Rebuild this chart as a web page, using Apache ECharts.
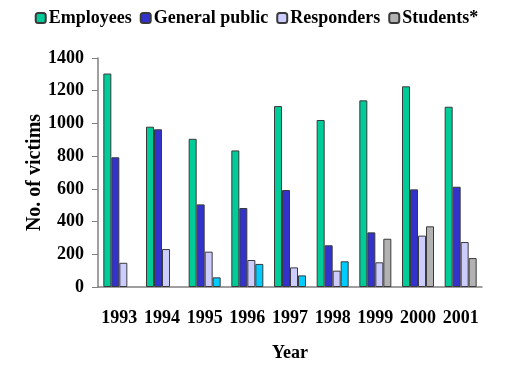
<!DOCTYPE html>
<html><head><meta charset="utf-8">
<script src="https://cdn.jsdelivr.net/npm/echarts@6/dist/echarts.min.js"></script>
<style>html,body{margin:0;padding:0;background:#fff}#c{width:513px;height:371px}</style>
</head><body><div id="c"></div>
<script>
const years = ['1993','1994','1995','1996','1997','1998','1999','2000','2001'];
const employees = [1305, 980, 906, 835, 1106, 1021, 1141, 1227, 1102];
const generalPublic = [793, 964, 505, 483, 593, 255, 334, 597, 613];
const responders = [148, 232, 216, 165, 120, 100, 151, 314, 275];
const students = [null, null, 59, 141, 71, 157, 295, 371, 177];
const studentsColors = ['#B2B2B2','#B2B2B2','#00CCFF','#00CCFF','#00CCFF','#00CCFF','#B2B2B2','#B2B2B2','#B2B2B2'];
const yTicks = [0, 200, 400, 600, 800, 1000, 1200, 1400];

const font = 'Liberation Serif';
const chart = echarts.init(document.getElementById('c'));
const border = {borderColor: '#3a3a3a', borderWidth: 1};
chart.setOption({
  animation: false,
  legend: {
    top: 4, left: 'center', itemWidth: 10, itemHeight: 10, itemGap: 8,
    textStyle: {fontFamily: font, fontWeight: 'bold', fontSize: 18, color: '#000', padding: [0,0,0,-2]},
    data: ['Employees','General public','Responders','Students*']
  },
  grid: {left: 98, right: 31, top: 58, bottom: 84},
  xAxis: {
    type: 'category', data: years,
    axisLine: {lineStyle: {color: '#808080', width: 1.5}},
    axisTick: {show: false},
    axisLabel: {fontFamily: font, fontWeight: 'bold', fontSize: 18, color: '#000', margin: 22,
      interval: 0, hideOverlap: false},
    name: 'Year', nameLocation: 'middle', nameGap: 57, nameMoveOverlap: false,
    nameTextStyle: {fontFamily: font, fontWeight: 'bold', fontSize: 18, color: '#000'}
  },
  yAxis: {
    type: 'value', min: 0, max: 1400, interval: 200,
    axisLine: {show: true, lineStyle: {color: '#808080', width: 1.5}},
    axisTick: {show: true, length: 6, lineStyle: {color: '#808080'}},
    splitLine: {show: false},
    axisLabel: {fontFamily: font, fontWeight: 'bold', fontSize: 18, color: '#000', margin: 14,
      formatter: v => yTicks.includes(v) ? String(v) : ''},
    name: 'No. of victims', nameLocation: 'middle', nameGap: 53, nameRotate: 90, nameMoveOverlap: false,
    nameTextStyle: {fontFamily: font, fontWeight: 'bold', fontSize: 20, color: '#000'}
  },
  series: [
    {name: 'Employees', type: 'bar', data: employees, barGap: '0%', barCategoryGap: '25%',
      itemStyle: Object.assign({color: '#00CC99'}, border)},
    {name: 'General public', type: 'bar', data: generalPublic,
      itemStyle: Object.assign({color: '#3333CC'}, border)},
    {name: 'Responders', type: 'bar', data: responders,
      itemStyle: Object.assign({color: '#CCCCFF'}, border)},
    {name: 'Students*', type: 'bar',
      data: students.map((v, i) => ({value: v, itemStyle: {color: studentsColors[i]}})),
      itemStyle: Object.assign({color: '#B2B2B2'}, border)}
  ]
});
</script></body></html>
